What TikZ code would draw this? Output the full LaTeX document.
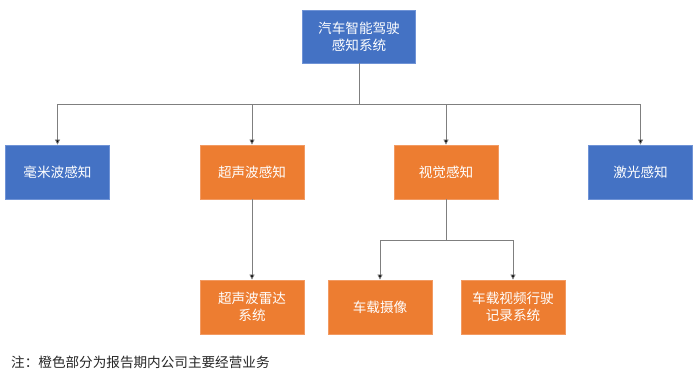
\documentclass[tikz,border=0pt]{standalone}
\usepackage{fontspec}
\newfontfamily\cjk{Noto Sans CJK SC}
\usepackage{tikz}
\usetikzlibrary{arrows.meta}
\definecolor{figblue}{HTML}{4472C4}
\definecolor{figbluestroke}{HTML}{6F93D6}
\definecolor{figorange}{HTML}{ED7D31}
\definecolor{figorangestroke}{HTML}{F29A62}
\definecolor{figline}{HTML}{7F7F7F}
\definecolor{figtext}{HTML}{262626}
\tikzset{
  figbox/.style={minimum width=104pt, minimum height=54pt, inner sep=2pt,
    align=center, text=white, line width=0.8pt},
  figblue/.style={figbox, fill=figblue, draw=figbluestroke},
  figorange/.style={figbox, fill=figorange, draw=figorangestroke},
  figlink/.style={draw=figline, line width=0.7pt},
  figarrow/.style={figlink, -{Triangle[length=5pt,width=5pt,fill=black]}}
}

\begin{document}
\begin{tikzpicture}[x=1pt,y=1pt,font=\cjk\fontsize{13.6}{17}\selectfont]
  \useasboundingbox (0,0) rectangle (698,376);
  % top level
  \node[figblue, minimum width=113pt, minimum height=53pt] (root) at (359,339.5) {汽车智能驾驶\\感知系统};
  % second level
  \node[figblue]   (mmwave) at (57.5,204) {毫米波感知};
  \node[figorange] (sonic)  at (252,204)  {超声波感知};
  \node[figorange] (vision) at (446,204)  {视觉感知};
  \node[figblue]   (laser)  at (640.5,204) {激光感知};
  % third level
  \node[figorange] (radar)  at (252,69) {超声波雷达\\系统};
  \node[figorange] (camera) at (380,69) {车载摄像};
  \node[figorange] (dvr)    at (513,69) {车载视频行驶\\记录系统};
  % bus lines
  \coordinate (bus) at (359,271.7);
  \coordinate (vbus) at (446,136);
  \draw[figlink] (root.south) -- (bus);
  \foreach \n in {mmwave,sonic,vision,laser} {
    \draw[figarrow] (bus) -| (\n.north);
  }
  \draw[figarrow] (sonic.south) -- (radar.north);
  \draw[figlink] (vision.south) -- (vbus);
  \foreach \n in {camera,dvr} {
    \draw[figarrow] (vbus) -| (\n.north);
  }
  % note
  \node[anchor=west, inner sep=0, text=figtext] (note) at (11,14) {注：橙色部分为报告期内公司主要经营业务};
\end{tikzpicture}
\end{document}
